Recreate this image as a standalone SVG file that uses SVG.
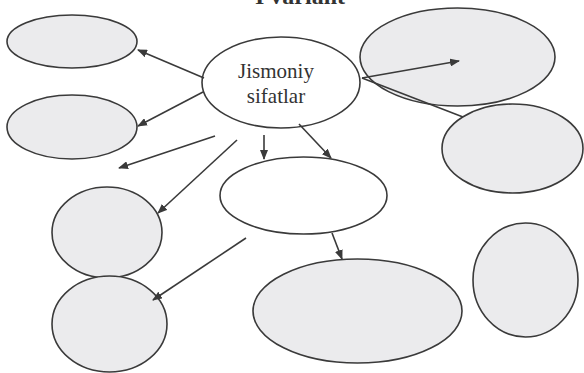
<svg xmlns="http://www.w3.org/2000/svg" width="584" height="373" viewBox="0 0 584 373">
  <style>
    .node { fill: #ebebed; stroke: #3a3a3a; stroke-width: 1.6; }
    .node.blank { fill: #ffffff; }
    .link { stroke: #3a3a3a; stroke-width: 1.6; fill: none; }
    .label { font-family: "Liberation Serif", "Times New Roman", serif; fill: #333333; }
  </style>
  <defs>
    <marker id="arrow" viewBox="0 0 10 8" refX="9" refY="4" markerWidth="10" markerHeight="8" markerUnits="userSpaceOnUse" orient="auto">
      <path d="M0,0 L10,4 L0,8 Z" fill="#3a3a3a"/>
    </marker>
  </defs>
  <rect width="584" height="373" fill="#ffffff"/>

  <!-- heading, mostly above the top edge -->
  <text class="label" x="300" y="4" font-size="24" font-weight="bold" text-anchor="middle">I variant</text>

  <g id="n-top-left"><ellipse class="node" cx="72" cy="41.5" rx="65" ry="26.5"/></g>
  <g id="n-left"><ellipse class="node" cx="72" cy="127" rx="65" ry="32"/></g>
  <g id="n-top-right"><ellipse class="node" cx="457.5" cy="57" rx="97.5" ry="49"/></g>
  <g id="n-right"><ellipse class="node" cx="512.5" cy="148.5" rx="70.5" ry="44.5"/></g>
  <g id="n-circle-upper"><ellipse class="node" cx="107" cy="232.5" rx="55" ry="45.5"/></g>
  <g id="n-circle-lower"><ellipse class="node" cx="109.5" cy="324" rx="57.5" ry="48"/></g>
  <g id="n-middle"><ellipse class="node blank" cx="303.5" cy="195.5" rx="83.5" ry="38.5"/></g>
  <g id="n-bottom"><ellipse class="node" cx="357.5" cy="311" rx="104.5" ry="52"/></g>
  <g id="n-bottom-right"><ellipse class="node" cx="525.5" cy="280" rx="52.5" ry="57"/></g>

  <g id="n-center">
    <ellipse class="node blank" cx="281" cy="82.5" rx="79" ry="45.5"/>
    <text class="label" x="276" y="78" font-size="21" text-anchor="middle">Jismoniy</text>
    <text class="label" x="276" y="103" font-size="21" text-anchor="middle">sifatlar</text>
  </g>

  <g id="connectors">
    <line class="link" x1="204" y1="78" x2="138" y2="50" marker-end="url(#arrow)"/>
    <line class="link" x1="203" y1="92" x2="138" y2="126" marker-end="url(#arrow)"/>
    <line class="link" x1="215" y1="136" x2="119" y2="168" marker-end="url(#arrow)"/>
    <line class="link" x1="237" y1="140" x2="158" y2="213" marker-end="url(#arrow)"/>
    <line class="link" x1="264" y1="135" x2="264" y2="159" marker-end="url(#arrow)"/>
    <line class="link" x1="299" y1="124" x2="331" y2="158" marker-end="url(#arrow)"/>
    <line class="link" x1="246" y1="238" x2="153" y2="300" marker-end="url(#arrow)"/>
    <line class="link" x1="332" y1="233" x2="342" y2="259" marker-end="url(#arrow)"/>
    <line class="link" x1="362" y1="78" x2="459" y2="61" marker-end="url(#arrow)"/>
    <line class="link" x1="362" y1="78" x2="463" y2="117"/>
  </g>
</svg>
